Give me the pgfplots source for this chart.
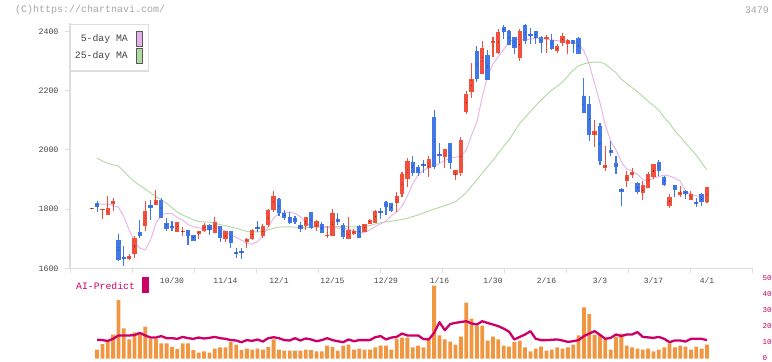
\documentclass[border=0pt]{standalone}
\usepackage{pgfplots}
\pgfplotsset{compat=1.18}
\usepackage{pgfplotstable}
\usepackage{fontspec}
\setmainfont{Liberation Mono}
\definecolor{candleRed}{RGB}{240,80,60}
\definecolor{candleBlue}{RGB}{64,120,232}
\definecolor{maPink}{RGB}{232,176,232}
\definecolor{maGreen}{RGB}{176,216,160}
\definecolor{volOrange}{RGB}{240,150,64}
\definecolor{aiRed}{RGB}{204,0,102}
\definecolor{axisGray}{RGB}{221,221,221}
\definecolor{textDark}{RGB}{70,70,70}
\definecolor{textHead}{RGB}{165,165,165}
\newcommand\fs[1]{\fontsize{#1bp}{#1bp}\selectfont}

% candles: index, open, high, low, close
\pgfplotstableread{
i o h l c
0 1803 1803 1803 1803
2 1797 1802 1767 1802
3 1781 1845 1781 1804
4 1817 1837 1794 1828
7 1633 1648 1628 1642
8 1648 1709 1635 1703
10 1743 1828 1727 1794
12 1814 1865 1814 1831
16 1723 1757 1723 1757
17 1723 1741 1709 1727
20 1716 1727 1699 1727
21 1727 1754 1723 1747
23 1721 1772 1720 1758
25 1698 1727 1690 1727
29 1690 1701 1669 1699
30 1699 1732 1694 1730
32 1709 1750 1701 1742
33 1747 1800 1739 1797
34 1797 1862 1792 1845
40 1744 1774 1730 1774
42 1741 1762 1727 1759
44 1710 1743 1701 1712
45 1709 1801 1709 1787
48 1699 1774 1699 1730
49 1717 1733 1713 1727
51 1724 1750 1724 1750
52 1749 1767 1749 1765
53 1754 1797 1752 1794
57 1822 1858 1792 1845
58 1852 1926 1840 1919
59 1903 1973 1875 1963
63 1940 1980 1910 1970
66 1975 2005 1938 2002
68 1916 1934 1900 1931
69 1923 2043 1912 2034
70 2129 2201 2120 2189
71 2197 2295 2177 2239
73 2256 2370 2256 2345
75 2364 2383 2316 2368
76 2328 2408 2325 2399
80 2312 2410 2302 2402
85 2377 2389 2329 2381
87 2333 2358 2329 2353
88 2363 2395 2350 2386
89 2357 2374 2325 2372
94 2051 2102 2011 2064
96 1940 2014 1930 1949
100 1895 1929 1876 1916
101 1917 1939 1905 1926
103 1856 1894 1832 1881
104 1873 1926 1873 1919
105 1910 1953 1903 1953
108 1809 1851 1805 1841
110 1848 1878 1842 1859
112 1830 1860 1830 1851
115 1825 1875 1822 1875
}\upTable

\pgfplotstableread{
i o h l c
1 1822 1828 1792 1808
5 1696 1716 1626 1628
6 1637 1675 1608 1633
9 1723 1763 1703 1709
11 1813 1831 1763 1805
13 1831 1838 1771 1771
14 1752 1771 1726 1733
15 1743 1760 1727 1739
18 1730 1730 1680 1709
19 1713 1713 1693 1694
22 1747 1750 1713 1730
24 1743 1743 1690 1703
26 1727 1727 1669 1685
27 1655 1667 1634 1651
28 1659 1669 1630 1654
31 1740 1760 1723 1734
35 1834 1838 1778 1788
36 1786 1797 1763 1771
37 1772 1789 1750 1754
38 1770 1778 1749 1758
39 1747 1756 1723 1734
41 1791 1791 1733 1736
43 1750 1758 1721 1721
46 1767 1788 1747 1758
47 1747 1752 1699 1705
50 1743 1747 1704 1704
54 1793 1804 1765 1788
55 1825 1828 1780 1806
56 1821 1821 1789 1794
60 1960 1980 1912 1923
61 1943 1948 1912 1923
62 1953 1966 1921 1948
64 2112 2135 1935 1944
65 1987 2025 1957 1982
67 2024 2024 1937 1957
72 2335 2352 2231 2240
74 2321 2338 2235 2235
77 2415 2422 2375 2399
78 2402 2406 2355 2355
79 2383 2383 2325 2346
81 2423 2426 2357 2370
82 2391 2411 2358 2387
83 2402 2402 2358 2377
84 2381 2387 2327 2361
86 2372 2391 2338 2343
90 2372 2372 2329 2357
91 2378 2381 2324 2324
92 2183 2242 2126 2126
93 2156 2183 2032 2051
95 2081 2090 1949 1964
97 2000 2031 1978 1991
98 1956 1978 1920 1943
99 1868 1871 1809 1859
102 1889 1893 1852 1858
106 1960 1966 1912 1930
107 1909 1912 1878 1883
109 1882 1882 1840 1866
111 1862 1866 1834 1852
113 1822 1837 1806 1819
114 1851 1854 1811 1825
}\downTable

\pgfplotstableread{
i v
1 1817
2 1817
3 1817
4 1812
5 1806
6 1775
7 1730
8 1690
9 1668
10 1662
11 1696
12 1752
13 1780
14 1786
15 1785
16 1772
17 1763
18 1748
19 1741
20 1737
21 1733
22 1730
23 1738
24 1736
25 1725
26 1712
27 1705
28 1695
29 1684
30 1682
31 1690
32 1710
33 1740
34 1770
35 1786
36 1790
37 1790
38 1785
39 1775
40 1755
41 1742
42 1740
43 1740
44 1738
45 1738
46 1736
47 1736
48 1733
49 1728
50 1722
51 1720
52 1730
53 1742
54 1750
55 1760
56 1778
57 1790
58 1810
59 1845
60 1885
61 1915
62 1932
63 1940
64 1946
65 1955
66 1965
67 1972
68 1976
69 1978
70 2000
71 2050
72 2095
73 2180
74 2250
75 2290
76 2316
77 2340
78 2365
79 2375
80 2373
81 2373
82 2375
83 2378
84 2377
85 2374
86 2372
87 2370
88 2366
89 2366
90 2362
91 2358
92 2335
93 2290
94 2225
95 2160
96 2085
97 2030
98 2000
99 1960
100 1935
101 1930
102 1918
103 1900
104 1895
105 1905
106 1910
107 1915
108 1912
109 1905
110 1895
111 1860
112 1850
113 1845
114 1842
115 1842
}\maFive

\pgfplotstableread{
i v
1 1972
2 1963
3 1955
4 1950
5 1946
6 1928
7 1910
8 1893
9 1880
10 1868
11 1855
12 1843
13 1832
14 1820
15 1805
16 1790
17 1780
18 1772
19 1764
20 1758
21 1757
22 1756
23 1752
24 1748
25 1744
26 1740
27 1735
28 1730
29 1725
30 1723
31 1723
32 1725
33 1730
34 1735
35 1739
36 1740
37 1740
38 1739
39 1738
40 1738
41 1739
42 1739
43 1740
44 1740
45 1740
46 1741
47 1741
48 1741
49 1740
50 1740
51 1741
52 1745
53 1750
54 1754
55 1757
56 1759
57 1762
58 1765
59 1769
60 1775
61 1780
62 1787
63 1794
64 1800
65 1806
66 1812
67 1818
68 1825
69 1840
70 1856
71 1878
72 1899
73 1922
74 1944
75 1965
76 1989
77 2012
78 2034
79 2062
80 2090
81 2110
82 2130
83 2150
84 2169
85 2186
86 2203
87 2215
88 2230
89 2250
90 2270
91 2285
92 2291
93 2295
94 2297
95 2297
96 2290
97 2276
98 2261
99 2239
100 2225
101 2211
102 2197
103 2181
104 2165
105 2150
106 2135
107 2110
108 2090
109 2065
110 2045
111 2023
112 2003
113 1983
114 1958
115 1932
}\maTwentyFive

\pgfplotstableread{
i v
1 5.6
2 9.0
3 11.0
4 15.0
5 36.5
6 18.9
7 11.9
8 16.4
9 15.5
10 20.0
11 12.3
12 12.3
13 9.4
14 9.4
15 7.3
16 5.8
17 9.4
18 9.4
19 5.2
20 3.75
21 4.4
22 3.75
23 6.25
24 6.9
25 6.9
26 10.2
27 8.75
28 5.2
29 6.25
30 5.6
31 6.25
32 5.6
33 7.3
34 11.9
35 5.6
36 5.0
37 5.0
38 5.0
39 5.0
40 5.6
41 5.2
42 4.4
43 4.4
44 8.1
45 7.3
46 5.0
47 8.1
48 8.75
49 5.6
50 6.25
51 5.6
52 5.6
53 6.9
54 8.1
55 8.1
56 5.6
57 12.5
58 13.1
59 13.1
60 6.9
61 8.1
62 6.9
63 11.9
64 45.6
65 14.4
66 11.9
67 10.6
68 8.75
69 13.75
70 35.0
71 25.0
72 20.6
73 20.6
74 11.25
75 13.75
76 11.9
77 8.1
78 7.5
79 10.2
80 11.25
81 6.9
82 4.4
83 6.25
84 7.5
85 5.0
86 5.6
87 6.9
88 6.25
89 6.9
90 8.75
91 14.4
92 31.9
93 27.7
94 15.0
95 15.0
96 11.9
97 5.6
98 13.3
99 15.6
100 8.1
101 6.9
102 6.25
103 5.6
104 6.25
105 4.4
106 5.6
107 6.9
108 9.4
109 6.9
110 8.1
111 7.5
112 5.6
113 7.5
114 6.25
115 8.75
}\volTable

\pgfplotstableread{
i v
1 11.7
2 11.5
3 11.0
4 12.3
5 14.4
6 14.4
7 14.4
8 14.6
9 16.0
10 14.4
11 13.1
12 13.1
13 14.0
14 12.7
15 12.7
16 12.3
17 13.5
18 12.7
19 12.3
20 13.1
21 12.5
22 12.9
23 13.5
24 12.7
25 12.3
26 11.5
27 11.25
28 10.2
29 11.5
30 11.0
31 11.9
32 10.6
33 12.7
34 13.3
35 12.7
36 11.5
37 11.25
38 12.7
39 11.25
40 12.5
41 11.9
42 10.8
43 11.5
44 12.7
45 11.5
46 10.8
47 10.2
48 11.9
49 10.8
50 11.5
51 11.5
52 11.5
53 13.3
54 14.0
55 11.9
56 13.1
57 13.5
58 15.6
59 14.4
60 14.4
61 14.4
62 12.2
63 11.9
64 16.0
65 22.7
66 17.7
67 21.5
68 22.3
69 22.8
70 23.3
71 21.9
72 21.25
73 23.3
74 22.2
75 21.25
76 20.2
77 18.7
78 16.8
79 11.9
80 13.5
81 15.0
82 17.1
83 12.3
84 11.5
85 11.5
86 11.7
87 11.9
88 11.25
89 10.4
90 10.8
91 11.5
92 14.0
93 15.6
94 17.1
95 14.8
96 12.3
97 12.9
98 15.0
99 14.0
100 15.0
101 15.0
102 16.5
103 13.5
104 13.2
105 12.9
106 13.5
107 12.3
108 10.2
109 11.25
110 11.25
111 10.6
112 12.3
113 12.3
114 12.3
115 11.5
}\aiTable

\pgfplotsset{
  candle/.style={only marks, mark=*, mark size=0.01pt,
    mark options={draw=none, fill=none},
    error bars/.cd, y dir=both, y explicit, error mark=none,
    error bar style={draw=#1}},
}

\begin{document}
\begin{tikzpicture}[x=1bp,y=1bp]
\useasboundingbox (0,0) rectangle (772,361);

\node[anchor=west, text=textHead, font=\fs{10}, inner sep=0pt] at (15,351) {(C)https://chartnavi.com/};
\node[anchor=east, text=textHead, font=\fs{10}, inner sep=0pt] at (769,351) {3479};

% ---------- price panel ----------
\begin{axis}[
  at={(70bp,92.7bp)}, anchor=south west,
  scale only axis, width=682bp, height=245.5bp,
  xmin=-4.056, xmax=123.421, ymin=1600, ymax=2430,
  axis x line*=bottom, axis y line*=left,
  axis line style={axisGray, line width=1.2bp},
  tick style={axisGray, line width=1bp},
  tick align=outside, major tick length=5bp,
  xtick={-4.056,7.533,19.121,30.710,42.299,53.888,65.477,77.065,88.654,100.243,111.832,123.421},
  xticklabels={},
  extra x ticks={15,25,35,45,55,65,75,85,95,105,115},
  extra x tick labels={10/30,11/14,12/1,12/15,12/29,1/16,1/30,2/16,3/3,3/17,4/1},
  extra x tick style={major tick length=0pt,
    xticklabel style={font=\fs{8}, text=textDark, yshift=-6bp}},
  ytick={1600,1800,2000,2200,2400},
  yticklabels={1600,1800,2000,2200,2400},
  yticklabel style={font=\fs{8.3}, text=textDark, xshift=-3bp},
  scaled y ticks=false,
]
\addplot[maGreen, line width=0.9bp, mark=none] table[x=i, y=v] {\maTwentyFive};
\addplot[maPink, line width=0.9bp, mark=none] table[x=i, y=v] {\maFive};
% wicks
\addplot[candle=candleRed, /pgfplots/error bars/error bar style={line width=1.1bp}]
  table[x=i, y expr={(\thisrow{h}+\thisrow{l})/2}, y error expr={(\thisrow{h}-\thisrow{l})/2}] {\upTable};
\addplot[candle=candleBlue, /pgfplots/error bars/error bar style={line width=1.1bp}]
  table[x=i, y expr={(\thisrow{h}+\thisrow{l})/2}, y error expr={(\thisrow{h}-\thisrow{l})/2}] {\downTable};
% bodies
\addplot[candle=candleRed, /pgfplots/error bars/error bar style={line width=4.3bp}]
  table[x=i, y expr={(\thisrow{o}+\thisrow{c})/2}, y error expr={max(abs(\thisrow{c}-\thisrow{o})/2,2)}] {\upTable};
\addplot[candle=candleBlue, /pgfplots/error bars/error bar style={line width=4.3bp}]
  table[x=i, y expr={(\thisrow{o}+\thisrow{c})/2}, y error expr={max(abs(\thisrow{c}-\thisrow{o})/2,2)}] {\downTable};
\end{axis}

% ---------- volume / AI panel ----------
\begin{axis}[
  at={(70bp,2.5bp)}, anchor=south west,
  scale only axis, width=682bp, height=80bp,
  xmin=-4.056, xmax=123.421, ymin=0, ymax=50,
  hide x axis,
  axis y line*=right,
  y axis line style={draw=none},
  major tick length=0pt,
  ytick={0,10,20,30,40,50},
  yticklabels={0,10,20,30,40,50},
  yticklabel style={font=\fs{7.5}, text=aiRed, anchor=west, xshift=7bp},
  clip=false,
]
\addplot[ybar, bar width=3.8bp, bar shift=0pt, fill=volOrange, draw=none] table[x=i, y=v] {\volTable};
\addplot[aiRed, line width=2.3bp, mark=none, line join=round] table[x=i, y=v] {\aiTable};
\end{axis}

% legend
\draw[axisGray, line width=1.2bp, fill=white] (70.3,290) rectangle (148.3,336.7);
\node[anchor=east, text=textDark, font=\fs{9.8}, inner sep=0pt] at (128,322.5) {5-day MA};
\node[anchor=east, text=textDark, font=\fs{9.8}, inner sep=0pt] at (128,305.2) {25-day MA};
\draw[fill=maPink, draw=black!65, line width=0.8bp] (136,315) rectangle (142.7,330);
\draw[fill=maGreen, draw=black!65, line width=0.8bp] (136,297.7) rectangle (142.7,312.7);

% AI-Predict label
\node[anchor=west, text=aiRed, font=\fs{9.8}, inner sep=0pt] at (76,75) {AI-Predict};
\fill[aiRed] (142.3,68.3) rectangle (148.7,83.7);
\end{tikzpicture}
\end{document}
